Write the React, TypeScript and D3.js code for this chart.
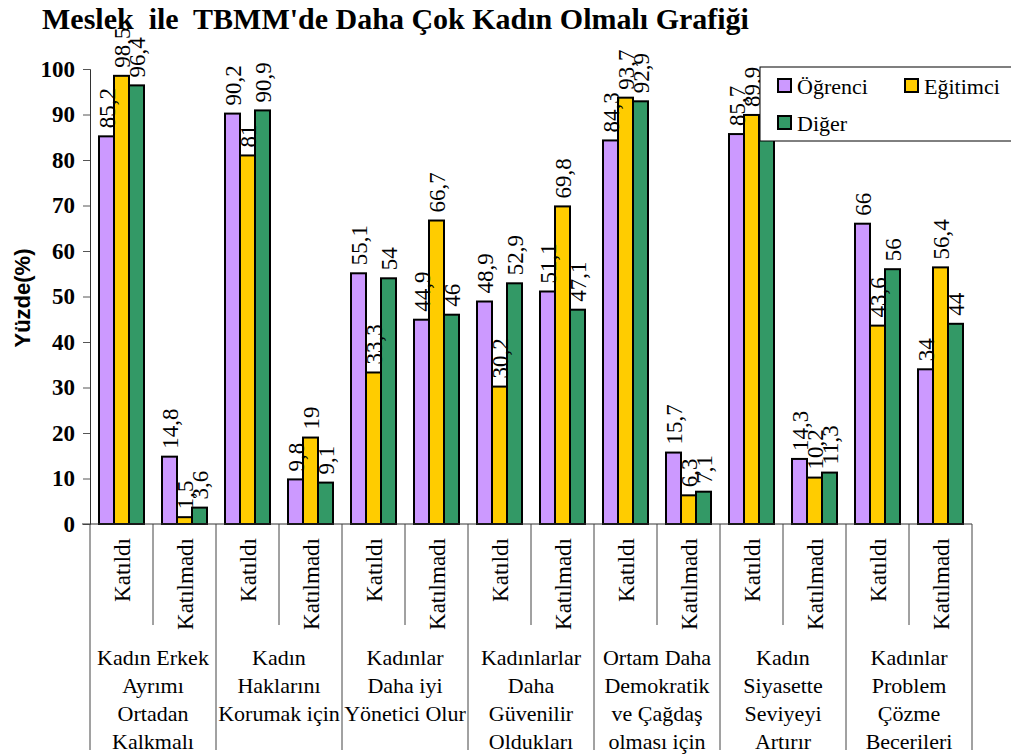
import React, { useEffect, useRef } from "react";
import * as d3 from "d3";

// chart values
const groups = [
  ["Kadın Erkek", "Ayrımı", "Ortadan", "Kalkmalı"],
  ["Kadın", "Haklarını", "Korumak için"],
  ["Kadınlar", "Daha iyi", "Yönetici Olur"],
  ["Kadınlarlar", "Daha", "Güvenilir", "Oldukları"],
  ["Ortam Daha", "Demokratik", "ve Çağdaş", "olması için"],
  ["Kadın", "Siyasette", "Seviyeyi", "Artırır"],
  ["Kadınlar", "Problem", "Çözme", "Becerileri"],
];
const answers = ["Katıldı", "Katılmadı"];
const seriesNames = ["Öğrenci", "Eğitimci", "Diğer"];
const seriesColors = ["#CC99FF", "#FFCC00", "#339966"];

const ogrenci = [85.2, 14.8, 90.2, 9.8, 55.1, 44.9, 48.9, 51.1, 84.3, 15.7, 85.7, 14.3, 66, 34];
const egitimci = [98.5, 1.5, 81, 19, 33.3, 66.7, 30.2, 69.8, 93.7, 6.3, 89.9, 10.2, 43.6, 56.4];
const diger = [96.4, 3.6, 90.9, 9.1, 54, 46, 52.9, 47.1, 92.9, 7.1, 88.7, 11.3, 56, 44];

const yTicks = [0, 10, 20, 30, 40, 50, 60, 70, 80, 90, 100];

const W = 1011,
  H = 756;
const SERIF = "Liberation Serif, Times New Roman, DejaVu Serif, serif";

function App() {
  const ref = useRef<SVGSVGElement>(null);

  useEffect(() => {
    const svg = d3.select(ref.current);
    svg.selectAll("*").remove();

    const series = [ogrenci, egitimci, diger];
    const keys = d3.range(groups.length * 2);

    const x0 = d3.scaleBand<number>().domain(keys).range([90, 972]).padding(0);
    const x1 = d3
      .scaleBand<number>()
      .domain([0, 1, 2])
      .range([9, x0.bandwidth() - 9])
      .padding(0);
    const y = d3.scaleLinear().domain([0, 100]).range([524, 69]);

    // title
    svg
      .append("text")
      .attr("x", 42)
      .attr("y", 29)
      .attr("xml:space", "preserve")
      .attr("font-family", SERIF)
      .attr("font-weight", "bold")
      .attr("font-size", 30)
      .style("white-space", "pre")
      .text("Meslek  ile  TBMM'de Daha Çok Kadın Olmalı Grafiği");

    // y axis
    const yAxis = svg
      .append("g")
      .attr("transform", "translate(90,0)")
      .call(d3.axisLeft(y).tickValues(yTicks).tickSize(7).tickPadding(8));
    yAxis.attr("font-family", SERIF).attr("font-size", 23).attr("font-weight", "bold");
    yAxis.select(".domain").attr("stroke", "#333");
    yAxis.selectAll(".tick line").attr("stroke", "#555");
    yAxis.selectAll(".tick text").attr("fill", "#000");

    svg
      .append("text")
      .attr("transform", "translate(30,298) rotate(-90)")
      .attr("text-anchor", "middle")
      .attr("font-family", "Liberation Sans, Arial, sans-serif")
      .attr("font-weight", "bold")
      .attr("font-size", 22)
      .text("Yüzde(%)");

    // bars
    series.forEach((vals, s) => {
      svg
        .append("g")
        .selectAll("rect")
        .data(vals)
        .enter()
        .append("rect")
        .attr("x", (d, i) => x0(i)! + x1(s)!)
        .attr("y", (d) => y(d))
        .attr("width", x1.bandwidth())
        .attr("height", (d) => y(0) - y(d))
        .attr("fill", seriesColors[s])
        .attr("stroke", "#000")
        .attr("stroke-width", 2);
    });

    // value labels
    series.forEach((vals, s) => {
      svg
        .append("g")
        .attr("font-family", SERIF)
        .attr("font-size", 23)
        .selectAll("text")
        .data(vals)
        .enter()
        .append("text")
        .attr("transform", (d, i) => {
          const cx = x0(i)! + x1(s)! + x1.bandwidth() / 2;
          return `translate(${cx},${y(d) - 8}) rotate(-90)`;
        })
        .attr("dy", "0.35em")
        .text((d) => String(d).replace(".", ","));
    });

    // x axis line + category separators
    svg
      .append("line")
      .attr("x1", 82)
      .attr("x2", 972)
      .attr("y1", y(0))
      .attr("y2", y(0))
      .attr("stroke", "#333");

    const cat = svg.append("g").attr("font-family", SERIF);
    keys.concat([keys.length]).forEach((k) => {
      const xx = k < keys.length ? x0(k)! : x0.range()[1];
      const full = k % 2 === 0;
      cat
        .append("line")
        .attr("x1", xx)
        .attr("x2", xx)
        .attr("y1", y(0))
        .attr("y2", full ? 750 : 625)
        .attr("stroke", "#444");
    });

    // answer labels
    cat
      .selectAll(".ans")
      .data(keys)
      .enter()
      .append("text")
      .attr("class", "ans")
      .attr(
        "transform",
        (k) => `translate(${x0(k)! + x0.bandwidth() / 2},538) rotate(-90)`
      )
      .attr("text-anchor", "end")
      .attr("dy", "0.35em")
      .attr("font-size", 23)
      .text((k) => answers[k % 2]);

    // group labels
    groups.forEach((lines, g) => {
      const cx = x0(g * 2)! + x0.bandwidth();
      const t = cat
        .append("text")
        .attr("text-anchor", "middle")
        .attr("font-size", 22);
      lines.forEach((ln, j) => {
        t.append("tspan")
          .attr("x", cx)
          .attr("y", 665 + j * 28)
          .text(ln);
      });
    });

    // legend
    const legend = svg.append("g").attr("transform", "translate(760,67)");
    legend
      .append("rect")
      .attr("width", 270)
      .attr("height", 74)
      .attr("fill", "#fff")
      .attr("stroke", "#000");
    const legendPos = [
      [18, 19],
      [145, 19],
      [18, 56],
    ];
    seriesNames.forEach((name, s) => {
      const [lx, ly] = legendPos[s];
      legend
        .append("rect")
        .attr("x", lx)
        .attr("y", ly - 7)
        .attr("width", 13)
        .attr("height", 13)
        .attr("fill", seriesColors[s])
        .attr("stroke", "#000")
        .attr("stroke-width", 2);
      legend
        .append("text")
        .attr("x", lx + 19)
        .attr("y", ly)
        .attr("dy", "0.35em")
        .attr("font-family", SERIF)
        .attr("font-size", 22)
        .text(name);
    });
  }, []);

  return (
    <svg
      ref={ref}
      width={W}
      height={H}
      style={{ position: "absolute", left: 0, top: 0, background: "#fff" }}
    />
  );
}

export default App;
